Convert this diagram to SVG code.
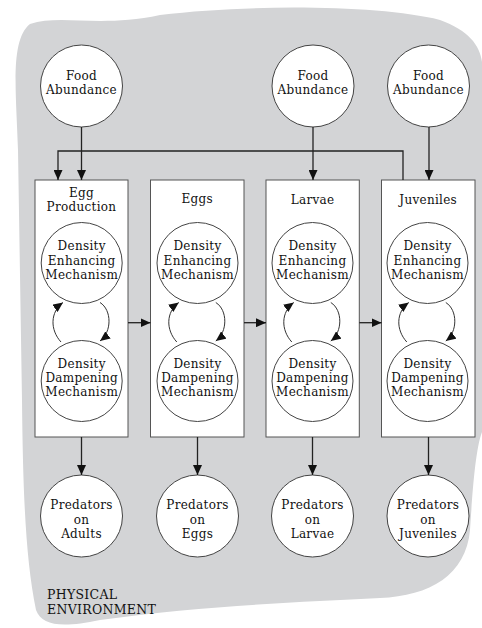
<svg xmlns="http://www.w3.org/2000/svg" width="482" height="628" viewBox="0 0 482 628">
<defs>
<style>
.t{font-family:"DejaVu Serif","Liberation Serif",serif;font-size:12px;letter-spacing:0.3px;fill:#111;text-anchor:middle}
.env{font-family:"DejaVu Serif","Liberation Serif",serif;font-size:12.5px;letter-spacing:0.3px;fill:#111}
.c{fill:#fff;stroke:#444;stroke-width:1}
.b{fill:#fff;stroke:#555;stroke-width:1}
.l{fill:none;stroke:#222;stroke-width:1.3}
.a{fill:none;stroke:#333;stroke-width:1}
</style>
<marker id="ah" markerUnits="userSpaceOnUse" markerWidth="10" markerHeight="9" refX="10" refY="4.5" orient="auto">
<path d="M0,0 L10,4.5 L0,9 z" fill="#111"/>
</marker>
</defs>
<rect width="482" height="628" fill="#fff"/>
<path id="environment" d="M 30 24 C 60 14 100 28 160 15 C 250 4 380 5 440 20 C 468 30 480 45 482 62 L 482 432 C 475 450 472 500 470 530 C 466 575 430 596 380 598 C 300 602 200 606 100 620 C 62 628 42 626 36 610 C 26 560 23 500 22 400 L 18 150 C 16 90 10 40 30 24 Z" fill="#d3d4d6"/>
<text class="env" x="47" y="599">PHYSICAL</text>
<text class="env" x="47" y="614">ENVIRONMENT</text>

<g id="food1"><circle class="c" cx="81.5" cy="86" r="41"/><text class="t" x="81.5" y="80">Food</text><text class="t" x="81.5" y="94">Abundance</text></g>
<g id="food2"><circle class="c" cx="313" cy="86" r="41"/><text class="t" x="313" y="80">Food</text><text class="t" x="313" y="94">Abundance</text></g>
<g id="food3"><circle class="c" cx="428.5" cy="86" r="41"/><text class="t" x="428.5" y="80">Food</text><text class="t" x="428.5" y="94">Abundance</text></g>

<g id="box-egg-production">
<rect class="b" x="35" y="180" width="93" height="257"/>
<text class="t" x="81.5" y="197">Egg</text><text class="t" x="81.5" y="211">Production</text>
<circle class="c" cx="81.7" cy="263" r="40.5"/>
<text class="t" x="81.7" y="250">Density</text><text class="t" x="81.7" y="264.5">Enhancing</text><text class="t" x="81.7" y="279">Mechanism</text>
<circle class="c" cx="81.7" cy="381" r="40.5"/>
<text class="t" x="81.7" y="367.5">Density</text><text class="t" x="81.7" y="381.5">Dampening</text><text class="t" x="81.7" y="395.5">Mechanism</text>
</g>
<g id="box-eggs">
<rect class="b" x="150.5" y="180" width="93.5" height="257"/>
<text class="t" x="197.3" y="203">Eggs</text>
<circle class="c" cx="197.5" cy="263" r="40.5"/>
<text class="t" x="197.5" y="250">Density</text><text class="t" x="197.5" y="264.5">Enhancing</text><text class="t" x="197.5" y="279">Mechanism</text>
<circle class="c" cx="197.5" cy="381" r="40.5"/>
<text class="t" x="197.5" y="367.5">Density</text><text class="t" x="197.5" y="381.5">Dampening</text><text class="t" x="197.5" y="395.5">Mechanism</text>
</g>
<g id="box-larvae">
<rect class="b" x="266" y="180" width="93.3" height="257"/>
<text class="t" x="312.6" y="204">Larvae</text>
<circle class="c" cx="312.5" cy="263" r="40.5"/>
<text class="t" x="312.5" y="250">Density</text><text class="t" x="312.5" y="264.5">Enhancing</text><text class="t" x="312.5" y="279">Mechanism</text>
<circle class="c" cx="312.5" cy="381" r="40.5"/>
<text class="t" x="312.5" y="367.5">Density</text><text class="t" x="312.5" y="381.5">Dampening</text><text class="t" x="312.5" y="395.5">Mechanism</text>
</g>
<g id="box-juveniles">
<rect class="b" x="381.5" y="180" width="93.5" height="257"/>
<text class="t" x="428.2" y="204">Juveniles</text>
<circle class="c" cx="427.5" cy="263" r="40.5"/>
<text class="t" x="427.5" y="250">Density</text><text class="t" x="427.5" y="264.5">Enhancing</text><text class="t" x="427.5" y="279">Mechanism</text>
<circle class="c" cx="427.5" cy="381" r="40.5"/>
<text class="t" x="427.5" y="367.5">Density</text><text class="t" x="427.5" y="381.5">Dampening</text><text class="t" x="427.5" y="395.5">Mechanism</text>
</g>

<g id="pred1"><circle class="c" cx="81.5" cy="516" r="41"/><text class="t" x="81.5" y="509">Predators</text><text class="t" x="81.5" y="523.5">on</text><text class="t" x="81.5" y="538">Adults</text></g>
<g id="pred2"><circle class="c" cx="197.5" cy="516" r="41"/><text class="t" x="197.5" y="509">Predators</text><text class="t" x="197.5" y="523.5">on</text><text class="t" x="197.5" y="538">Eggs</text></g>
<g id="pred3"><circle class="c" cx="312.5" cy="516" r="41"/><text class="t" x="312.5" y="509">Predators</text><text class="t" x="312.5" y="523.5">on</text><text class="t" x="312.5" y="538">Larvae</text></g>
<g id="pred4"><circle class="c" cx="428" cy="516" r="41"/><text class="t" x="428" y="509">Predators</text><text class="t" x="428" y="523.5">on</text><text class="t" x="428" y="538">Juveniles</text></g>

<g id="connectors">
<path class="l" d="M81.5 127 V180" marker-end="url(#ah)"/>
<path class="l" d="M313 127 V180" marker-end="url(#ah)"/>
<path class="l" d="M429 127 V180" marker-end="url(#ah)"/>
<path class="l" d="M403 180 V151 H58 V180" marker-end="url(#ah)"/>
<path class="l" d="M128 322.7 H150.5" marker-end="url(#ah)"/>
<path class="l" d="M244 322.7 H266" marker-end="url(#ah)"/>
<path class="l" d="M359.3 322.7 H381.5" marker-end="url(#ah)"/>
<path class="l" d="M81.5 437 V475" marker-end="url(#ah)"/>
<path class="l" d="M197.5 437 V475" marker-end="url(#ah)"/>
<path class="l" d="M312.5 437 V475" marker-end="url(#ah)"/>
<path class="l" d="M428.5 437 V475" marker-end="url(#ah)"/>
<path class="a" d="M61 342 C50 330 50 312 63 302.5" marker-end="url(#ah)"/>
<path class="a" d="M100 302.5 C112 310 112 332 100 341" marker-end="url(#ah)"/>
<path class="a" d="M176.8 342 C165.8 330 165.8 312 178.8 302.5" marker-end="url(#ah)"/>
<path class="a" d="M215.8 302.5 C227.8 310 227.8 332 215.8 341" marker-end="url(#ah)"/>
<path class="a" d="M291.8 342 C280.8 330 280.8 312 293.8 302.5" marker-end="url(#ah)"/>
<path class="a" d="M330.8 302.5 C342.8 310 342.8 332 330.8 341" marker-end="url(#ah)"/>
<path class="a" d="M406.8 342 C395.8 330 395.8 312 408.8 302.5" marker-end="url(#ah)"/>
<path class="a" d="M445.8 302.5 C457.8 310 457.8 332 445.8 341" marker-end="url(#ah)"/>
</g>
</svg>
